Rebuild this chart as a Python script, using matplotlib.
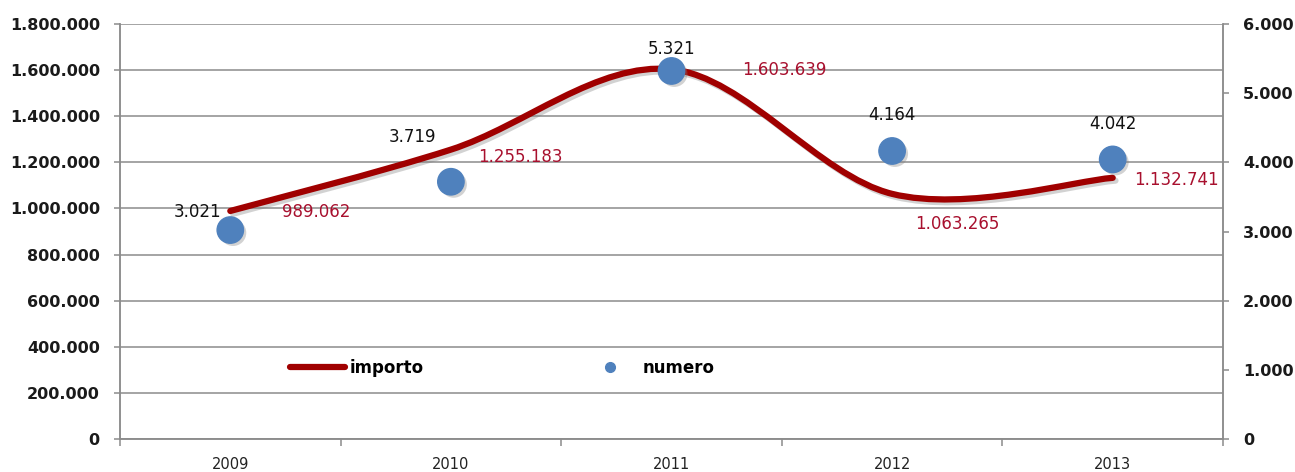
import matplotlib
matplotlib.use("Agg")
import matplotlib.pyplot as plt
import matplotlib.patheffects as pe
from matplotlib.path import Path
from matplotlib.patches import PathPatch
from matplotlib.lines import Line2D
from matplotlib.ticker import FuncFormatter, FixedLocator

years = ["2009", "2010", "2011", "2012", "2013"]
importo = [989062, 1255183, 1603639, 1063265, 1132741]
numero = [3021, 3719, 5321, 4164, 4042]

# label offsets in pixels (style only)
num_off = [(-33, 18), (-38, 45), (0, 22), (0, 36), (0, 35)]
imp_off = [(86, -1), (69, -7), (113, -1), (65, -30), (64, -2)]

LINE_RED = "#A00000"
LABEL_RED = "#A8102E"
BLUE = "#4F81BD"
GRID = "#8C8C8C"


def it_fmt(v):
    return f"{int(round(v)):,}".replace(",", ".")


def smooth_path(xs, ys):
    # excel-like smoothed line: cubic bezier, catmull-rom control points
    pts = list(zip(xs, ys))
    verts = [pts[0]]
    codes = [Path.MOVETO]
    n = len(pts)
    for i in range(n - 1):
        p0 = pts[i - 1] if i > 0 else pts[i]
        p1 = pts[i]
        p2 = pts[i + 1]
        p3 = pts[i + 2] if i + 2 < n else pts[i + 1]
        c1 = (p1[0] + (p2[0] - p0[0]) / 6, p1[1] + (p2[1] - p0[1]) / 6)
        c2 = (p2[0] - (p3[0] - p1[0]) / 6, p2[1] - (p3[1] - p1[1]) / 6)
        verts += [c1, c2, p2]
        codes += [Path.CURVE4] * 3
    return Path(verts, codes)


fig = plt.figure(figsize=(12.95, 4.72), dpi=100)
ax = fig.add_axes([120 / 1295, 1 - 439 / 472, 1103 / 1295, 415 / 472])
ax2 = ax.twinx()

x = list(range(len(years)))

ax.set_xlim(-0.5, len(years) - 0.5)
ax.set_ylim(0, 1800000)
ax2.set_ylim(0, 6000)

ax.set_yticks(range(0, 1800001, 200000))
ax.yaxis.set_major_formatter(FuncFormatter(lambda v, p: it_fmt(v)))
ax2.set_yticks(range(0, 6001, 1000))
ax2.yaxis.set_major_formatter(FuncFormatter(lambda v, p: it_fmt(v)))

ax.grid(axis="y", color=GRID, lw=1.1)
ax.set_axisbelow(True)

ax.set_xticks(x)
ax.set_xticklabels(years, family="Liberation Sans Narrow", fontsize=10.5, color="#222222")
ax.xaxis.set_minor_locator(FixedLocator([i - 0.5 for i in range(len(years) + 1)]))
ax.tick_params(axis="x", which="major", length=0, pad=13)
ax.tick_params(axis="x", which="minor", length=5, color=GRID, width=1.1)

for a in (ax, ax2):
    for s in a.spines.values():
        s.set_color(GRID)
        s.set_linewidth(1.1)
    a.spines["top"].set_visible(False)

ax.tick_params(axis="y", length=4.5, color=GRID, width=1.1, pad=10,
               labelsize=11.5, labelcolor="#1a1a1a")
ax2.tick_params(axis="y", length=4.5, color=GRID, width=1.1, pad=10,
                labelsize=11.5, labelcolor="#1a1a1a")
for lab in ax.get_yticklabels() + ax2.get_yticklabels():
    lab.set_fontweight("bold")

# importo smoothed line
patch = PathPatch(smooth_path(x, importo), facecolor="none", edgecolor=LINE_RED,
                  lw=4.5, capstyle="round", joinstyle="round", zorder=3)
patch.set_path_effects([pe.SimpleLineShadow(offset=(2, -2), shadow_color="gray", alpha=0.35),
                        pe.Normal()])
ax.add_patch(patch)

# numero points
ax2.plot(x, numero, ls="none", marker="o", ms=19, color=BLUE, mec=BLUE, zorder=4,
         path_effects=[pe.SimplePatchShadow(offset=(2, -2), shadow_rgbFace="gray", alpha=0.35),
                       pe.Normal()])

for xi, v, off in zip(x, numero, num_off):
    ax2.annotate(it_fmt(v), (xi, v), xytext=off, textcoords="offset pixels",
                 ha="center", va="center", fontsize=12, color="#111111", zorder=5)

for xi, v, off in zip(x, importo, imp_off):
    ax2.annotate(it_fmt(v), (xi, v * 6000 / 1800000), xytext=off, textcoords="offset pixels",
                 ha="center", va="center", fontsize=12, color=LABEL_RED, zorder=5)

handles = [Line2D([], [], color=LINE_RED, lw=4.5, solid_capstyle="round"),
           Line2D([], [], ls="none", marker="o", ms=7, color=BLUE)]
leg = ax2.legend(handles, ["importo", "numero"], ncol=2, frameon=False,
                 loc="center left", bbox_to_anchor=(0.154, 0.171),
                 borderpad=0, borderaxespad=0, handlelength=3.3,
                 handletextpad=0.3, columnspacing=9.5,
                 prop={"size": 12, "weight": "bold"})

fig.savefig("out.png", dpi=100)
